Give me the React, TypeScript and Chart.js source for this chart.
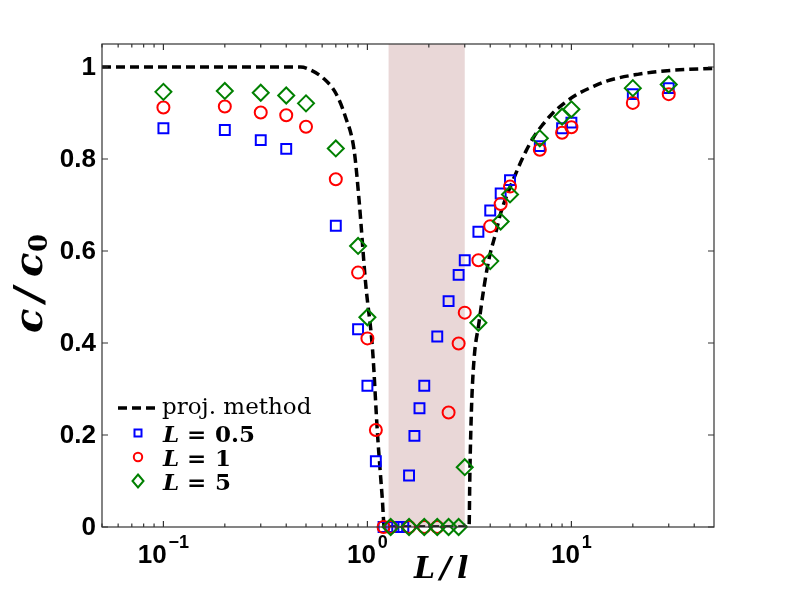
import React, { useEffect, useRef } from 'react';
import { Chart, registerables } from 'chart.js';

Chart.register(...registerables);

// L = 0.5 (blue squares)
const sqX = [0.1, 0.2, 0.3, 0.4, 0.7, 0.9, 1.0, 1.1, 1.2, 1.3, 1.4, 1.5, 1.6, 1.7, 1.8, 1.9, 2.2, 2.5, 2.8, 3.0, 3.5, 4.0, 4.5, 5.0, 7, 9, 10, 20, 30];
const sqY = [0.867, 0.863, 0.841, 0.822, 0.655, 0.43, 0.307, 0.143, 0, 0, 0, 0, 0.112, 0.198, 0.258, 0.307, 0.414, 0.491, 0.548, 0.58, 0.642, 0.688, 0.725, 0.754, 0.828, 0.867, 0.879, 0.941, 0.954];

// L = 1 (red circles)
const circX = [0.1, 0.2, 0.3, 0.4, 0.5, 0.7, 0.9, 1.0, 1.1, 1.2, 1.3, 1.6, 1.9, 2.2, 2.5, 2.8, 3.0, 3.5, 4.0, 4.5, 5, 7, 9, 10, 20, 30];
const circY = [0.912, 0.914, 0.901, 0.895, 0.87, 0.756, 0.553, 0.41, 0.211, 0, 0, 0, 0, 0, 0.249, 0.399, 0.466, 0.58, 0.654, 0.702, 0.74, 0.82, 0.857, 0.869, 0.922, 0.941];

// L = 5 (green diamonds)
const diaX = [0.1, 0.2, 0.3, 0.4, 0.5, 0.7, 0.9, 1.0, 1.3, 1.6, 1.9, 2.2, 2.5, 2.8, 3.0, 3.5, 4.0, 4.5, 5, 7, 9, 10, 20, 30];
const diaY = [0.946, 0.948, 0.944, 0.938, 0.921, 0.823, 0.611, 0.456, 0, 0, 0, 0, 0, 0, 0.13, 0.444, 0.578, 0.664, 0.723, 0.845, 0.892, 0.908, 0.954, 0.962];

// projection method curve
const projX = [0.05, 0.3, 0.47, 0.53, 0.61, 0.7, 0.78, 0.86, 0.91, 0.98, 1.06, 1.12, 1.184, 1.21, 3.15, 3.18, 3.24, 3.33, 3.52, 3.73, 3.95, 4.25, 4.5, 5.43, 5.97, 6.56, 7.21, 8.07, 9.2, 10.7, 12.7, 15, 21.1, 29.5, 50];
const projY = [1, 1, 1, 0.993, 0.975, 0.943, 0.892, 0.82, 0.711, 0.53, 0.385, 0.204, 0.059, 0, 0, 0.12, 0.262, 0.363, 0.443, 0.522, 0.584, 0.638, 0.682, 0.776, 0.816, 0.849, 0.874, 0.899, 0.921, 0.941, 0.957, 0.97, 0.984, 0.992, 0.997];

// shaded region
const bandStart = 1.27;
const bandEnd = 3.0;

const yTicks = [0, 0.2, 0.4, 0.6, 0.8, 1];
const yTickLabels = ['0', '0.2', '0.4', '0.6', '0.8', '1'];
const xDecades = [0.1, 1, 10];
const xExponents = ['\u22121', '0', '1'];
const xMinor = [0.05, 0.06, 0.07, 0.08, 0.09, 0.2, 0.3, 0.4, 0.5, 0.6, 0.7, 0.8, 0.9, 2, 3, 4, 5, 6, 7, 8, 9, 20, 30, 40];
const legendValues = ['0.5', '1', '5'];

const toPoints = (xs: number[], ys: number[]) => xs.map((x, i) => ({ x, y: ys[i] }));

const decorPlugin = {
  id: 'decor',
  beforeDatasetsDraw(chart: Chart) {
    const { ctx, chartArea: a } = chart;
    const xs = chart.scales.x;
    const x0 = xs.getPixelForValue(bandStart);
    const x1 = xs.getPixelForValue(bandEnd);
    ctx.save();
    ctx.fillStyle = '#e9d7d7';
    ctx.fillRect(x0, a.top, x1 - x0, a.bottom - a.top);
    ctx.restore();
  },
  afterDraw(chart: Chart) {
    const { ctx, chartArea: a } = chart;
    const xs = chart.scales.x;
    const ys = chart.scales.y;
    ctx.save();

    // axes box and inward ticks
    ctx.strokeStyle = '#333';
    ctx.lineWidth = 1.2;
    ctx.strokeRect(a.left, a.top, a.right - a.left, a.bottom - a.top);
    ctx.beginPath();
    xMinor.forEach((v) => {
      const px = xs.getPixelForValue(v);
      ctx.moveTo(px, a.bottom); ctx.lineTo(px, a.bottom - 3.5);
      ctx.moveTo(px, a.top); ctx.lineTo(px, a.top + 3.5);
    });
    xDecades.forEach((v) => {
      const px = xs.getPixelForValue(v);
      ctx.moveTo(px, a.bottom); ctx.lineTo(px, a.bottom - 6);
      ctx.moveTo(px, a.top); ctx.lineTo(px, a.top + 6);
    });
    yTicks.forEach((v) => {
      const py = ys.getPixelForValue(v);
      ctx.moveTo(a.left, py); ctx.lineTo(a.left + 6, py);
      ctx.moveTo(a.right, py); ctx.lineTo(a.right - 6, py);
    });
    ctx.stroke();

    // y tick labels
    ctx.fillStyle = '#000';
    ctx.font = 'bold 26px "Liberation Sans"';
    ctx.textAlign = 'right';
    ctx.textBaseline = 'middle';
    yTicks.forEach((v, i) => ctx.fillText(yTickLabels[i], a.left - 6, ys.getPixelForValue(v) + 1));

    // x tick labels 10^n
    ctx.textAlign = 'left';
    ctx.textBaseline = 'alphabetic';
    xDecades.forEach((v, i) => {
      const px = xs.getPixelForValue(v);
      ctx.font = 'bold 26px "Liberation Sans"';
      const wb = ctx.measureText('10').width;
      ctx.font = 'bold 18px "Liberation Sans"';
      const we = ctx.measureText(xExponents[i]).width;
      const start = px - (wb + 2 + we) / 2;
      ctx.font = 'bold 26px "Liberation Sans"';
      ctx.fillText('10', start, a.bottom + 36);
      ctx.font = 'bold 18px "Liberation Sans"';
      ctx.fillText(xExponents[i], start + wb + 2, a.bottom + 21);
    });

    // x axis title
    ctx.font = 'bold italic 30px "DejaVu Serif"';
    const tx = a.left + 312;
    const tb = a.bottom + 51;
    ctx.fillText('L', tx, tb);
    ctx.fillText('/', tx + 26, tb);
    ctx.fillText('l', tx + 43, tb);

    // y axis title (rotated)
    ctx.save();
    ctx.translate(42, 333);
    ctx.rotate(-Math.PI / 2);
    ctx.font = 'bold italic 40px "DejaVu Serif"';
    ctx.fillText('c', 0, 0);
    ctx.fillText('/', 31, 0);
    ctx.fillText('c', 56, 0);
    ctx.font = 'bold 26px "DejaVu Serif"';
    ctx.fillText('0', 81, 5);
    ctx.restore();

    // legend
    const lx = a.left + 36;
    const lineY = a.bottom - 119;
    ctx.strokeStyle = '#000';
    ctx.lineWidth = 3.5;
    ctx.setLineDash([9, 5]);
    ctx.beginPath();
    ctx.moveTo(a.left + 16, lineY);
    ctx.lineTo(a.left + 56, lineY);
    ctx.stroke();
    ctx.setLineDash([]);
    ctx.font = '23px "DejaVu Serif"';
    ctx.fillText('proj. method', a.left + 60, lineY + 6);

    const rows = [a.bottom - 94, a.bottom - 70, a.bottom - 46];
    ctx.lineWidth = 2;
    ctx.strokeStyle = '#0000ff';
    ctx.strokeRect(lx - 3.5, rows[0] - 3.5, 7, 7);
    ctx.strokeStyle = '#ff0000';
    ctx.beginPath();
    ctx.arc(lx, rows[1], 4.2, 0, Math.PI * 2);
    ctx.stroke();
    ctx.strokeStyle = '#008000';
    ctx.beginPath();
    ctx.moveTo(lx, rows[2] - 6.5);
    ctx.lineTo(lx + 5.5, rows[2]);
    ctx.lineTo(lx, rows[2] + 6.5);
    ctx.lineTo(lx - 5.5, rows[2]);
    ctx.closePath();
    ctx.stroke();

    rows.forEach((ry, i) => {
      const by = ry + 8.5;
      ctx.font = 'bold italic 23px "DejaVu Serif"';
      ctx.fillText('L', a.left + 61, by);
      ctx.font = 'bold 23px "DejaVu Serif"';
      ctx.fillText('=', a.left + 85, by);
      ctx.fillText(legendValues[i], a.left + 113, by);
    });

    ctx.restore();
  },
};

const App: React.FC = () => {
  const canvasRef = useRef<HTMLCanvasElement>(null);
  const chartRef = useRef<Chart | null>(null);

  useEffect(() => {
    document.body.style.margin = '0';
    if (!canvasRef.current) return;
    if (chartRef.current) chartRef.current.destroy();
    const ctx = canvasRef.current.getContext('2d');
    if (!ctx) return;

    chartRef.current = new Chart(ctx, {
      type: 'scatter',
      data: {
        datasets: [
          {
            label: 'proj. method',
            data: toPoints(projX, projY),
            showLine: true,
            borderColor: '#000',
            borderWidth: 3.5,
            borderDash: [9, 5],
            cubicInterpolationMode: 'monotone',
            pointRadius: 0,
            order: 4,
          },
          {
            label: 'L = 0.5',
            data: toPoints(sqX, sqY),
            pointStyle: 'rect',
            pointRadius: 7,
            pointBorderWidth: 2,
            pointBorderColor: '#0000ff',
            pointBackgroundColor: 'rgba(0,0,0,0)',
            clip: false,
            order: 3,
          },
          {
            label: 'L = 1',
            data: toPoints(circX, circY),
            pointStyle: 'circle',
            pointRadius: 6,
            pointBorderWidth: 2,
            pointBorderColor: '#ff0000',
            pointBackgroundColor: 'rgba(0,0,0,0)',
            clip: false,
            order: 2,
          },
          {
            label: 'L = 5',
            data: toPoints(diaX, diaY),
            pointStyle: 'rectRot',
            pointRadius: 8,
            pointBorderWidth: 2,
            pointBorderColor: '#008000',
            pointBackgroundColor: 'rgba(0,0,0,0)',
            clip: false,
            order: 1,
          },
        ],
      },
      options: {
        animation: false,
        responsive: false,
        layout: { padding: { left: 102, right: 75, top: 44, bottom: 66 } },
        plugins: {
          legend: { display: false },
          tooltip: { enabled: false },
        },
        scales: {
          x: { type: 'logarithmic', min: 0.05, max: 50, display: false },
          y: { type: 'linear', min: 0, max: 1.05, display: false },
        },
      },
      plugins: [decorPlugin],
    } as any);

    return () => {
      if (chartRef.current) {
        chartRef.current.destroy();
        chartRef.current = null;
      }
    };
  }, []);

  return (
    <div style={{ width: 789, height: 593, background: '#fff' }}>
      <canvas ref={canvasRef} width={789} height={593} style={{ display: 'block' }} />
    </div>
  );
};

export default App;
